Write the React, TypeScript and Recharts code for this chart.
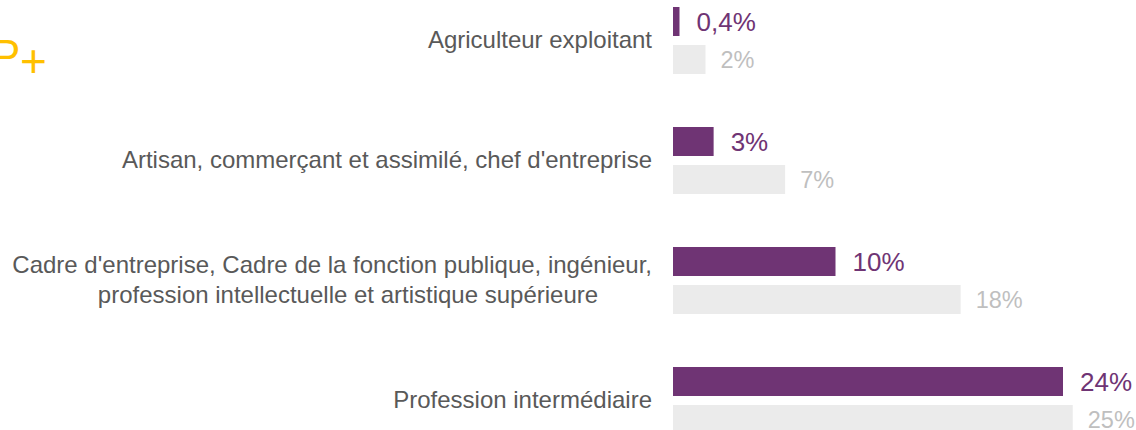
import React from 'react';
import { BarChart, Bar, XAxis, YAxis, LabelList } from 'recharts';

const CATEGORIES = [
    ['Agriculteur exploitant'],
    ["Artisan, commerçant et assimilé, chef d'entreprise"],
    ["Cadre d'entreprise, Cadre de la fonction publique, ingénieur,", 'profession intellectuelle et artistique supérieure'],
    ['Profession intermédiaire'],
];
const PURPLE_VALUES = [0.4, 2.5, 10, 24];
const GRAY_VALUES = [2, 6.9, 17.7, 24.6];
const PURPLE_LABELS = ['0,4%', '3%', '10%', '24%'];
const GRAY_LABELS = ['2%', '7%', '18%', '25%'];

const PURPLE = '#6F3474';
const GRAY_BAR = '#EBEBEB';
const GRAY_TEXT = '#BFBFBF';
const CAT_TEXT = '#595959';
const FONT = '"Liberation Sans", Arial, sans-serif';

const data = CATEGORIES.map((lines, i) => ({
    cat: String(i),
    purple: PURPLE_VALUES[i],
    gray: GRAY_VALUES[i],
    pLabel: PURPLE_LABELS[i],
    gLabel: GRAY_LABELS[i],
}));

interface TickProps { x?: number; y?: number; payload?: { value: string } }

const CategoryTick = ({ x = 0, y = 0, payload }: TickProps) => {
    const lines = CATEGORIES[Number(payload?.value ?? 0)] ?? [];
    const lineH = 30;
    const first = y + 8 - ((lines.length - 1) * lineH) / 2;
    return (
        <g>
            {lines.map((l, i) => (
                <text
                    key={i}
                    x={i === 0 ? x : x - 304}
                    y={first + i * lineH}
                    textAnchor={i === 0 ? 'end' : 'middle'}
                    fill={CAT_TEXT}
                    fontSize={24}
                    fontFamily={FONT}
                >
                    {l}
                </text>
            ))}
        </g>
    );
};

export default function App() {
    return (
        <div style={{ position: 'fixed', left: 0, top: 0, width: 1136, height: 430, overflow: 'hidden', background: '#fff', fontFamily: FONT }}>
            <div style={{ position: 'absolute', left: -9, top: 34, fontSize: 44, lineHeight: 1, color: '#FFC000' }}>P</div>
            <div style={{ position: 'absolute', left: 20, top: 38, fontSize: 46, lineHeight: 1, color: '#FFC000' }}>+</div>
            <div style={{ position: 'absolute', left: 0, top: -20 }}>
                <BarChart
                    width={1136}
                    height={480}
                    data={data}
                    layout="vertical"
                    margin={{ top: 0, right: 8, bottom: 0, left: 0 }}
                    barSize={29}
                    barGap={9}
                >
                    <XAxis type="number" domain={[0, 28]} hide />
                    <YAxis
                        type="category"
                        dataKey="cat"
                        width={673}
                        axisLine={false}
                        tickLine={false}
                        tickSize={0}
                        tickMargin={21}
                        tick={<CategoryTick />}
                        interval={0}
                    />
                    <Bar dataKey="purple" fill={PURPLE} isAnimationActive={false}>
                        <LabelList dataKey="pLabel" position="right" offset={17} fill={PURPLE} fontSize={26} fontFamily={FONT} />
                    </Bar>
                    <Bar dataKey="gray" fill={GRAY_BAR} isAnimationActive={false}>
                        <LabelList dataKey="gLabel" position="right" offset={15} fill={GRAY_TEXT} fontSize={23.5} fontFamily={FONT} />
                    </Bar>
                </BarChart>
            </div>
        </div>
    );
}
